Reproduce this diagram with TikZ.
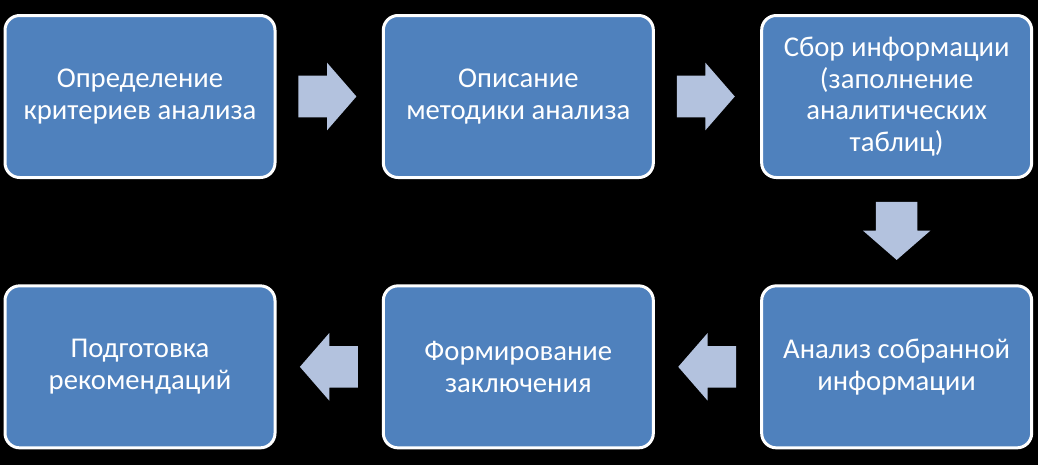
\documentclass[tikz,border=0pt]{standalone}
\usepackage{fontspec}
\setmainfont{Carlito}
\usepackage{tikz}
\usetikzlibrary{shapes.arrows}
\usetikzlibrary{positioning}
\usetikzlibrary{calc}
\definecolor{boxblue}{RGB}{79,129,189}
\definecolor{flowblue}{RGB}{179,194,222}
\tikzstyle{stage} = [rectangle, rounded corners=11pt, minimum width=202.5pt, minimum height=121.5pt, align=center, fill=boxblue, draw=white, line width=2.25pt, text=white, font=\fontsize{21.5}{23.75}\selectfont]
\tikzstyle{flow} = [single arrow, fill=flowblue, draw=none, minimum height=43.5pt, minimum width=50.25pt, single arrow head extend=9.75pt, single arrow tip angle=98, inner xsep=0pt, inner ysep=15.375pt, anchor=tail]

\begin{document}
\begin{tikzpicture}[x=0.75pt, y=-0.75pt, node distance=79pt]
                            \fill [black] (0,0) rectangle (1038,465);
                            \node (1) [stage] at (140,96.5) {Определение\\критериев анализа};
                            \node (2) [stage, right=of 1] {Описание\\методики анализа};
                            \node (3) [stage, right=of 2] {Сбор информации\\(заполнение\\аналитических\\таблиц)};
                            \node (4) [stage, below=of 3] {Анализ собранной\\информации};
                            \node (5) [stage, left=of 4] {Формирование\\заключения};
                            \node (6) [stage, left=of 5] {Подготовка\\рекомендаций};
                            % block arrows, tail half a length back from the gap middle
                            \node (f12) [flow] at ($(1.east)!0.5!(2.west)+(-31,0)$) {};
                            \node (f23) [flow] at ($(2.east)!0.5!(3.west)+(-31,0)$) {};
                            \node (f34) [flow, rotate=-90] at ($(3.south)!0.5!(4.north)+(0,-30)$) {};
                            \node (f45) [flow, rotate=180] at ($(4.west)!0.5!(5.east)+(29,0)$) {};
                            \node (f56) [flow, rotate=180] at ($(5.west)!0.5!(6.east)+(29,0)$) {};
                        \end{tikzpicture}
\end{document}
